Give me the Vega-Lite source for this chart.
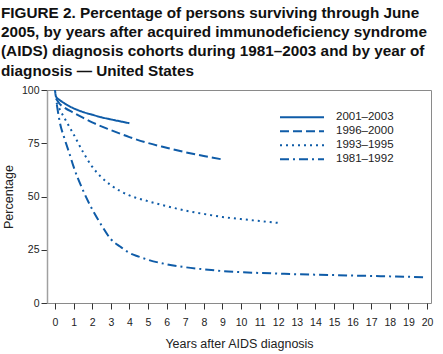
{
  "$schema": "https://vega.github.io/schema/vega-lite/v6.json",
  "width": 384,
  "height": 213,
  "autosize": {"type": "none"},
  "padding": {"left": 47, "top": 90, "right": 12, "bottom": 51},
  "background": "white",
  "title": {
    "text": ["FIGURE 2. Percentage of persons surviving through June", "2005, by years after acquired immunodeficiency syndrome", "(AIDS) diagnosis cohorts during 1981–2003 and by year of", "diagnosis — United States"],
    "anchor": "start",
    "frame": "group",
    "dx": -46,
    "offset": 6,
    "font": "Liberation Sans",
    "fontWeight": "bold",
    "fontSize": 15.3,
    "lineHeight": 19.3,
    "color": "#111111"
  },
  "config": {
    "view": {"stroke": "#8a8a8a", "strokeWidth": 1},
    "font": "Liberation Sans"
  },
  "data": {
    "values": [
      {"cohort": "2001–2003", "year": 0, "pct": 100},
      {"cohort": "2001–2003", "year": 0.05, "pct": 97},
      {"cohort": "2001–2003", "year": 0.25, "pct": 95.3},
      {"cohort": "2001–2003", "year": 0.5, "pct": 93.8},
      {"cohort": "2001–2003", "year": 0.75, "pct": 92.5},
      {"cohort": "2001–2003", "year": 1, "pct": 91.4},
      {"cohort": "2001–2003", "year": 1.5, "pct": 89.7},
      {"cohort": "2001–2003", "year": 2, "pct": 88.4},
      {"cohort": "2001–2003", "year": 2.5, "pct": 87.2},
      {"cohort": "2001–2003", "year": 3, "pct": 86.2},
      {"cohort": "2001–2003", "year": 3.5, "pct": 85.3},
      {"cohort": "2001–2003", "year": 4, "pct": 84.4},
      {"cohort": "1996–2000", "year": 0.05, "pct": 96},
      {"cohort": "1996–2000", "year": 0.25, "pct": 93.5},
      {"cohort": "1996–2000", "year": 0.5, "pct": 91.8},
      {"cohort": "1996–2000", "year": 1, "pct": 89.3},
      {"cohort": "1996–2000", "year": 1.5, "pct": 87},
      {"cohort": "1996–2000", "year": 2, "pct": 84.8},
      {"cohort": "1996–2000", "year": 3, "pct": 81.2},
      {"cohort": "1996–2000", "year": 4, "pct": 77.9},
      {"cohort": "1996–2000", "year": 5, "pct": 75.1},
      {"cohort": "1996–2000", "year": 6, "pct": 72.9},
      {"cohort": "1996–2000", "year": 7, "pct": 70.8},
      {"cohort": "1996–2000", "year": 8, "pct": 69},
      {"cohort": "1996–2000", "year": 9, "pct": 67.4},
      {"cohort": "1993–1995", "year": 0.08, "pct": 94},
      {"cohort": "1993–1995", "year": 0.4, "pct": 88.5},
      {"cohort": "1993–1995", "year": 0.77, "pct": 82.8},
      {"cohort": "1993–1995", "year": 1, "pct": 79.2},
      {"cohort": "1993–1995", "year": 1.5, "pct": 71},
      {"cohort": "1993–1995", "year": 2, "pct": 64},
      {"cohort": "1993–1995", "year": 2.5, "pct": 59},
      {"cohort": "1993–1995", "year": 3, "pct": 55.3},
      {"cohort": "1993–1995", "year": 3.5, "pct": 52.6},
      {"cohort": "1993–1995", "year": 4, "pct": 50.5},
      {"cohort": "1993–1995", "year": 5, "pct": 47.8},
      {"cohort": "1993–1995", "year": 6, "pct": 45.5},
      {"cohort": "1993–1995", "year": 7, "pct": 43.4},
      {"cohort": "1993–1995", "year": 8, "pct": 41.8},
      {"cohort": "1993–1995", "year": 9, "pct": 40.4},
      {"cohort": "1993–1995", "year": 10, "pct": 39.4},
      {"cohort": "1993–1995", "year": 11, "pct": 38.5},
      {"cohort": "1993–1995", "year": 12, "pct": 37.6},
      {"cohort": "1981–1992", "year": 0.1, "pct": 93},
      {"cohort": "1981–1992", "year": 0.27, "pct": 84.4},
      {"cohort": "1981–1992", "year": 0.5, "pct": 77.5},
      {"cohort": "1981–1992", "year": 0.8, "pct": 69.5},
      {"cohort": "1981–1992", "year": 1, "pct": 64},
      {"cohort": "1981–1992", "year": 1.5, "pct": 53},
      {"cohort": "1981–1992", "year": 2, "pct": 44},
      {"cohort": "1981–1992", "year": 2.5, "pct": 36.5},
      {"cohort": "1981–1992", "year": 3, "pct": 30},
      {"cohort": "1981–1992", "year": 3.5, "pct": 26.5},
      {"cohort": "1981–1992", "year": 4, "pct": 23.5},
      {"cohort": "1981–1992", "year": 4.5, "pct": 21.8},
      {"cohort": "1981–1992", "year": 5, "pct": 20.3},
      {"cohort": "1981–1992", "year": 6, "pct": 18.2},
      {"cohort": "1981–1992", "year": 7, "pct": 16.8},
      {"cohort": "1981–1992", "year": 8, "pct": 15.8},
      {"cohort": "1981–1992", "year": 9, "pct": 15},
      {"cohort": "1981–1992", "year": 10, "pct": 14.5},
      {"cohort": "1981–1992", "year": 11, "pct": 14.1},
      {"cohort": "1981–1992", "year": 12, "pct": 13.8},
      {"cohort": "1981–1992", "year": 13, "pct": 13.5},
      {"cohort": "1981–1992", "year": 14, "pct": 13.3},
      {"cohort": "1981–1992", "year": 15, "pct": 13.1},
      {"cohort": "1981–1992", "year": 16, "pct": 12.9},
      {"cohort": "1981–1992", "year": 17, "pct": 12.7},
      {"cohort": "1981–1992", "year": 18, "pct": 12.5},
      {"cohort": "1981–1992", "year": 19, "pct": 12.3},
      {"cohort": "1981–1992", "year": 20, "pct": 12}
    ]
  },
  "mark": {"type": "line", "color": "#0f5ca8", "strokeWidth": 2, "interpolate": "monotone", "clip": true},
  "encoding": {
    "x": {
      "field": "year",
      "type": "quantitative",
      "scale": {"domain": [-0.43, 20.215], "nice": false, "zero": false},
      "axis": {
        "values": [0,1,2,3,4,5,6,7,8,9,10,11,12,13,14,15,16,17,18,19,20],
        "title": "Years after AIDS diagnosis",
        "grid": false,
        "domain": false,
        "tickColor": "#333333",
        "tickSize": 6,
        "labelFontSize": 10.5,
        "labelColor": "#222222",
        "labelPadding": 8,
        "titleFontSize": 12.5,
        "titleFontWeight": "normal",
        "titleColor": "#222222",
        "titlePadding": 10
      }
    },
    "y": {
      "field": "pct",
      "type": "quantitative",
      "scale": {"domain": [0, 100], "nice": false},
      "axis": {
        "values": [0, 25, 50, 75, 100],
        "title": "Percentage",
        "grid": false,
        "domainColor": "#a0a0a0",
        "domainWidth": 1.5,
        "tickColor": "#333333",
        "tickSize": 6,
        "labelFontSize": 10.5,
        "labelColor": "#222222",
        "labelPadding": 2,
        "titleFontSize": 12.5,
        "titleFontWeight": "normal",
        "titleColor": "#222222",
        "titlePadding": 6
      }
    },
    "strokeDash": {
      "field": "cohort",
      "type": "nominal",
      "scale": {
        "domain": ["2001–2003", "1996–2000", "1993–1995", "1981–1992"],
        "range": [[1, 0], [9, 4], [2, 4], [9, 4, 2, 4]]
      },
      "legend": {
        "title": null,
        "orient": "none",
        "legendX": 232,
        "legendY": 20.5,
        "symbolType": "stroke",
        "symbolSize": 1936,
        "symbolStrokeWidth": 2,
        "symbolStrokeColor": "#0f5ca8",
        "clipHeight": 13.5,
        "labelFontSize": 11.5,
        "labelColor": "#222222",
        "labelOffset": 11,
        "rowPadding": 0
      }
    }
  }
}
